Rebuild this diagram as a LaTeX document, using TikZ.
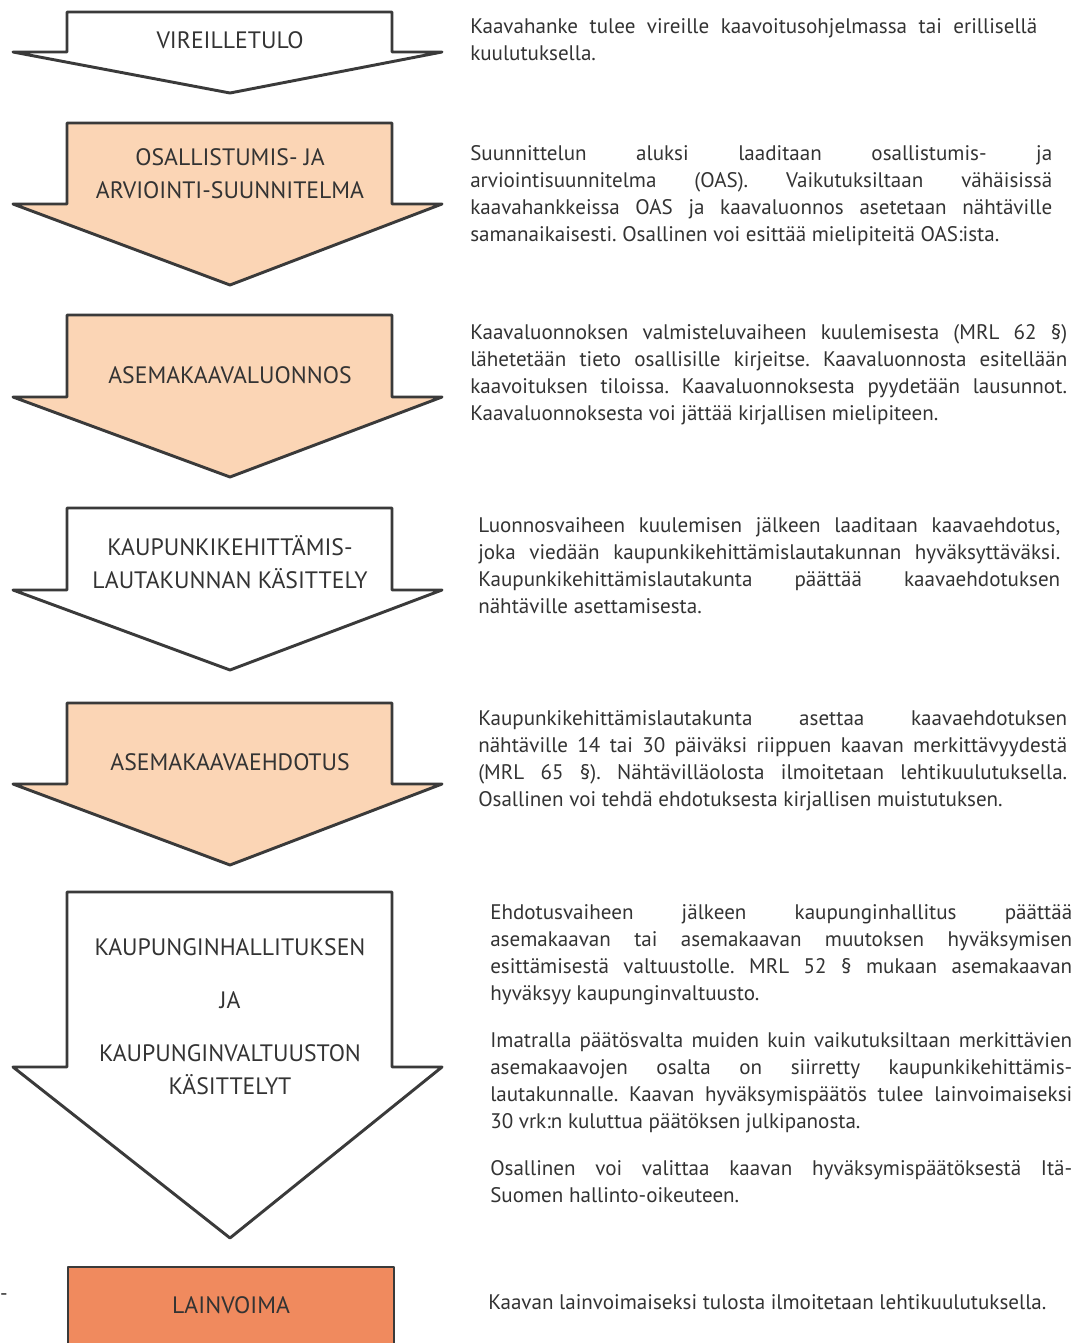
\documentclass[tikz,border=0pt]{standalone}
\usepackage{fontspec}
\setmainfont{PT Sans}

\definecolor{peach}{RGB}{251,213,181}
\definecolor{lawcol}{RGB}{240,138,94}
\definecolor{edgegray}{RGB}{58,58,58}
\definecolor{ink}{RGB}{51,51,51}

\hyphenpenalty=10000
\exhyphenpenalty=10000
\tolerance=10000
\emergencystretch=20pt
\frenchspacing

% one stage arrow: fill, top, shoulder, tip
\newcommand{\stagearrow}[4]{%
  \draw[stage, fill=#1] (67,#2) -- (392,#2) -- (392,#3) -- (442,#3)
    -- (230,#4) -- (13,#3) -- (67,#3) -- cycle;}

\begin{document}
\begin{tikzpicture}[x=0.75pt, y=-0.75pt,
  stage/.style={draw=edgegray, line width=2.2pt, line join=round},
  label/.style={text=ink, align=center, font=\fontsize{17.8}{24.75}\selectfont},
  desc/.style={text=ink, anchor=north west, inner sep=0pt, align=justify,
    font=\fontsize{15.8}{20.25}\selectfont}]

\useasboundingbox (0,0) rectangle (1074,1343);

%\draw [help lines] (0,0) grid (1074,1343);

\stagearrow{white}{12}{52}{93}
\stagearrow{peach}{123}{204}{285}
\stagearrow{peach}{315}{397}{477}
\stagearrow{white}{508}{590}{670}
\stagearrow{peach}{703}{784}{865}
\stagearrow{white}{892}{1067}{1238}
\draw[stage, fill=lawcol] (68,1360) -- (68,1267) -- (394,1267) -- (394,1360);

\node[label] (vir) at (230,40) {VIREILLETULO};
\node[label] (oas) at (230,173.5) {OSALLISTUMIS- JA\\ARVIOINTI-SUUNNITELMA};
\node[label] (luon) at (230,375) {ASEMAKAAVALUONNOS};
\node[label] (kkl) at (230,562) {KAUPUNKIKEHITTÄMIS-\\LAUTAKUNNAN KÄSITTELY};
\node[label] (ehd) at (230,762) {ASEMAKAAVAEHDOTUS};
\node[label] (khkv) at (230,1017) {KAUPUNGINHALLITUKSEN\\[15pt]JA\\[15pt]KAUPUNGINVALTUUSTON\\KÄSITTELYT};
\node[label] (lv) at (231,1305) {LAINVOIMA};

\node[desc, text width=425.25pt] (virtxt) at (470,18) {Kaavahanke tulee vireille kaavoitusohjelmassa tai erillisellä\linebreak kuulutuksella.};

\node[desc, text width=436.5pt] (oastxt) at (470,145) {Suunnittelun aluksi laaditaan osallistumis- ja\linebreak arviointisuunnitelma (OAS). Vaikutuksiltaan vähäisissä\linebreak kaavahankkeissa OAS ja kaavaluonnos asetetaan nähtäville\linebreak samanaikaisesti. Osallinen voi esittää mielipiteitä OAS:ista.};

\node[desc, text width=447.75pt] (luontxt) at (470,324) {Kaavaluonnoksen valmisteluvaiheen kuulemisesta (MRL 62 §)\linebreak lähetetään tieto osallisille kirjeitse. Kaavaluonnosta esitellään\linebreak kaavoituksen tiloissa. Kaavaluonnoksesta pyydetään lausunnot.\linebreak Kaavaluonnoksesta voi jättää kirjallisen mielipiteen.};

\node[desc, text width=436.5pt] (kkltxt) at (478,517) {Luonnosvaiheen kuulemisen jälkeen laaditaan kaavaehdotus,\linebreak joka viedään kaupunkikehittämislautakunnan hyväksyttäväksi.\linebreak Kaupunkikehittämislautakunta päättää kaavaehdotuksen\linebreak nähtäville asettamisesta.};

\node[desc, text width=441.75pt] (ehdtxt) at (478,710) {Kaupunkikehittämislautakunta asettaa kaavaehdotuksen\linebreak nähtäville 14 tai 30 päiväksi riippuen kaavan merkittävyydestä\linebreak (MRL 65 §). Nähtävilläolosta ilmoitetaan lehtikuulutuksella.\linebreak Osallinen voi tehdä ehdotuksesta kirjallisen muistutuksen.};

\node[desc, text width=436.5pt] (khkvtxt) at (490,904) {\setlength{\parskip}{15pt}Ehdotusvaiheen jälkeen kaupunginhallitus päättää\linebreak asemakaavan tai asemakaavan muutoksen hyväksymisen\linebreak esittämisestä valtuustolle. MRL 52 § mukaan asemakaavan\linebreak hyväksyy kaupunginvaltuusto.\par
Imatralla päätösvalta muiden kuin vaikutuksiltaan merkittävien\linebreak asemakaavojen osalta on siirretty kaupunkikehittämis-\linebreak lautakunnalle. Kaavan hyväksymispäätös tulee lainvoimaiseksi\linebreak 30 vrk:n kuluttua päätöksen julkipanosta.\par
Osallinen voi valittaa kaavan hyväksymispäätöksestä Itä-\linebreak Suomen hallinto-oikeuteen.};

\node[desc, anchor=west, align=left] (lvtxt) at (488,1302) {Kaavan lainvoimaiseksi tulosta ilmoitetaan lehtikuulutuksella.};

\node[text=ink, inner sep=0pt, font=\fontsize{15.8}{20.25}\selectfont] (cut) at (4,1297) {-};

\end{tikzpicture}
\end{document}
